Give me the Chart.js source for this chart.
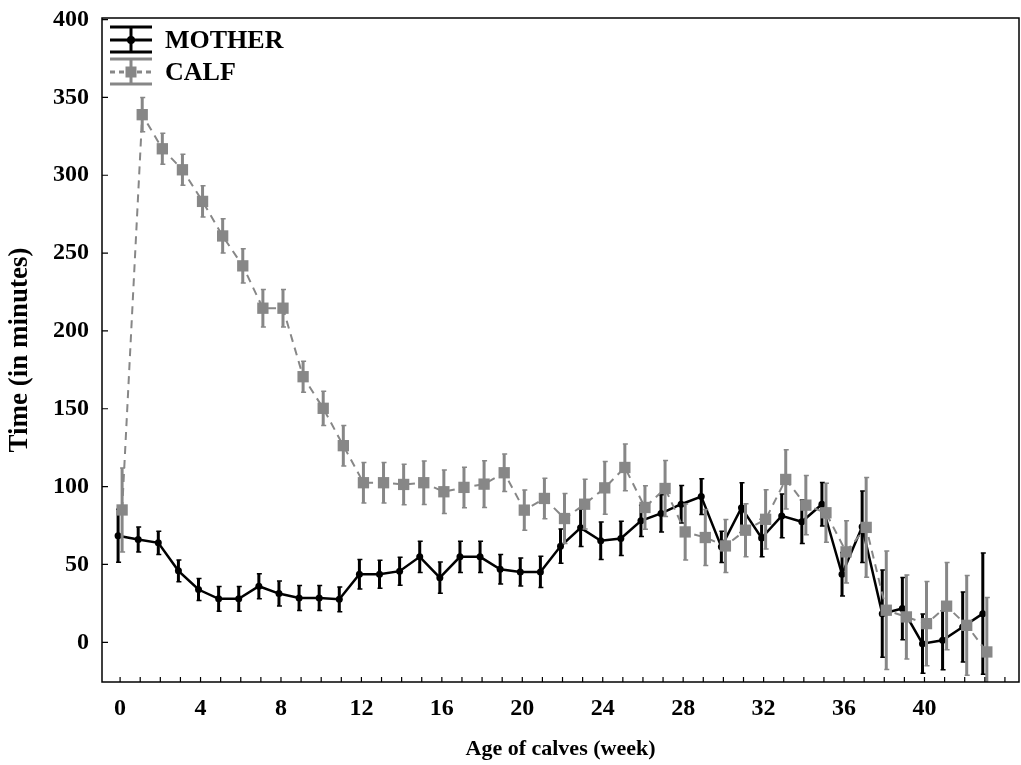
<!DOCTYPE html>
<html>
<head>
<meta charset="utf-8">
<script src="https://cdn.jsdelivr.net/npm/chart.js@4/dist/chart.umd.min.js"></script>
<style>
  html, body { margin: 0; padding: 0; background: #fff; }
  #wrap { width: 1021px; height: 765px; }
</style>
</head>
<body>
<div id="wrap"><canvas id="chart" width="1021" height="765"></canvas></div>
<script>
const weeks = [0, 1, 2, 3, 4, 5, 6, 7, 8, 9, 10, 11, 12, 13, 14, 15, 16, 17, 18, 19, 20, 21,
  22, 23, 24, 25, 26, 27, 28, 29, 30, 31, 32, 33, 34, 35, 36, 37, 38, 39, 40, 41, 42, 43];

const motherMean = [68.4, 66, 63.9, 45.9, 33.9, 27.9, 27.9, 36, 31.3, 28.5, 28.5, 27.6, 43.7, 43.7,
  45.7, 54.9, 41.5, 54.9, 54.9, 46.9, 45.2, 45.2, 61.7, 73.5, 65.2, 66.7, 78, 82.8, 88.7, 93.6,
  61.3, 86.5, 67, 81.2, 77.4, 88.7, 43.7, 74.2, 18.4, 21.7, -0.9, 1.3, 9.8, 18.4];
const motherErr = [17, 8, 7.5, 7, 7, 8, 8, 8, 8, 8, 8, 8, 9.5, 9, 9, 10, 10, 10, 10, 9.5, 9, 10,
  11, 12, 12, 11, 10, 12, 12, 11.5, 10, 16, 12, 14, 14, 14, 14, 23, 28, 20, 19, 19, 22.5, 39];

const calfMean = [85, 338.9, 317, 303.5, 283.2, 261, 241.8, 214.6, 214.6, 170.6, 150.3, 126.3,
  102.5, 102.5, 101.4, 102.5, 96.7, 99.5, 101.6, 108.9, 84.9, 92.4, 79.5, 88.7, 99.2, 112.3,
  86.6, 98.8, 70.9, 67.3, 61.9, 72, 79, 104.6, 88.1, 83.2, 58.1, 73.8, 20.6, 16.3, 12, 23.2,
  10.9, -6.2];
const calfErr = [27, 11, 10, 10, 10, 11, 11, 12, 12, 10, 11, 13, 13, 13, 13, 14, 14, 13, 15, 12,
  13, 13, 16, 16, 17, 15, 14, 18, 18, 18, 17, 17, 19, 19, 19, 19, 20, 32, 38, 27, 27, 28, 32, 35];

const yTickValues = [0, 50, 100, 150, 200, 250, 300, 350, 400];
const seriesNames = ['MOTHER', 'CALF'];
const xTitle = 'Age of calves (week)';
const yTitle = 'Time (in minutes)';

const GREY = '#878787';
const SERIF = '"Liberation Serif", "Times New Roman", serif';
const DODGE = 0.1; // mother and calf are nudged apart a little, as in the figure

function points(means, shift) {
  return weeks.map((w, i) => ({ x: w + shift, y: means[i] }));
}

// vertical error bars, drawn just under each dataset's own line and markers
const errorBars = {
  id: 'errorBars',
  beforeDatasetDraw(chart, args) {
    const ds = chart.data.datasets[args.index];
    if (!ds.errors) return;
    const { ctx, chartArea } = chart;
    const xs = chart.scales.x, ys = chart.scales.y;
    ctx.save();
    ctx.beginPath();
    ctx.rect(chartArea.left, chartArea.top, chartArea.right - chartArea.left, chartArea.bottom - chartArea.top);
    ctx.clip();
    ctx.strokeStyle = ds.borderColor;
    ds.data.forEach((p, i) => {
      const x = xs.getPixelForValue(p.x);
      const top = ys.getPixelForValue(p.y + ds.errors[i]);
      const bot = ys.getPixelForValue(p.y - ds.errors[i]);
      ctx.lineWidth = 3;
      ctx.beginPath();
      ctx.moveTo(x, top);
      ctx.lineTo(x, bot);
      ctx.stroke();
      ctx.lineWidth = 1.5;
      ctx.beginPath();
      ctx.moveTo(x - 2, top); ctx.lineTo(x + 3, top);
      ctx.moveTo(x - 2, bot); ctx.lineTo(x + 3, bot);
      ctx.stroke();
    });
    ctx.restore();
  }
};

// frame, inward tick marks and the legend box in the top-left corner
const frame = {
  id: 'frame',
  afterDraw(chart) {
    const { ctx, chartArea: a } = chart;
    ctx.save();
    ctx.strokeStyle = '#000';
    ctx.lineWidth = 1.5;
    ctx.strokeRect(a.left, a.top, a.right - a.left, a.bottom - a.top);

    ctx.lineWidth = 1.2;
    ctx.beginPath();
    chart.scales.x.ticks.forEach(t => {
      const x = chart.scales.x.getPixelForValue(t.value);
      ctx.moveTo(x, a.bottom);
      ctx.lineTo(x, a.bottom - 5);
    });
    chart.scales.y.ticks.forEach(t => {
      const y = chart.scales.y.getPixelForValue(t.value);
      ctx.moveTo(a.left, y);
      ctx.lineTo(a.left + 6, y);
    });
    ctx.stroke();

    // legend
    const items = [
      { label: seriesNames[0], color: '#000', dash: [], cy: a.top + 22, marker: 'dot' },
      { label: seriesNames[1], color: GREY, dash: [5, 4], cy: a.top + 54, marker: 'square' }
    ];
    const x0 = a.left + 8, x1 = a.left + 50, xc = (x0 + x1) / 2;
    items.forEach(it => {
      ctx.strokeStyle = it.color;
      ctx.fillStyle = it.color;
      ctx.lineWidth = 3;
      ctx.setLineDash([]);
      ctx.beginPath();
      ctx.moveTo(x0, it.cy - 13); ctx.lineTo(x1, it.cy - 13);
      ctx.moveTo(x0, it.cy + 12); ctx.lineTo(x1, it.cy + 12);
      ctx.moveTo(xc, it.cy - 13); ctx.lineTo(xc, it.cy + 12);
      ctx.stroke();
      ctx.setLineDash(it.dash);
      ctx.beginPath();
      ctx.moveTo(x0, it.cy); ctx.lineTo(x1, it.cy);
      ctx.stroke();
      ctx.setLineDash([]);
      if (it.marker === 'dot') {
        ctx.beginPath();
        ctx.arc(xc, it.cy, 4, 0, Math.PI * 2);
        ctx.fill();
      } else {
        ctx.fillRect(xc - 5.5, it.cy - 5.5, 11, 11);
      }
      ctx.fillStyle = '#000';
      ctx.font = 'bold 26px ' + SERIF;
      ctx.textBaseline = 'middle';
      ctx.textAlign = 'left';
      ctx.fillText(it.label, x1 + 13, it.cy + 1);
    });
    ctx.restore();
  }
};

new Chart(document.getElementById('chart'), {
  type: 'line',
  data: {
    datasets: [
      {
        label: seriesNames[1],
        data: points(calfMean, DODGE),
        errors: calfErr,
        borderColor: GREY,
        backgroundColor: GREY,
        borderWidth: 2,
        borderDash: [8, 6],
        pointStyle: 'rect',
        pointRadius: 8,
        pointBorderWidth: 0,
        tension: 0,
        order: 0
      },
      {
        label: seriesNames[0],
        data: points(motherMean, -DODGE),
        errors: motherErr,
        borderColor: '#000',
        backgroundColor: '#000',
        borderWidth: 2.5,
        pointStyle: 'circle',
        pointRadius: 3.5,
        pointBorderWidth: 0,
        tension: 0,
        order: 1
      }
    ]
  },
  options: {
    responsive: false,
    animation: false,
    layout: { autoPadding: false, padding: { top: 18, right: 2, left: 0, bottom: 0 } },
    plugins: {
      legend: { display: false },
      tooltip: { enabled: false }
    },
    scales: {
      x: {
        type: 'linear',
        min: -0.9,
        max: 44.7,
        afterFit: s => {
          s.height = 83;
          s.paddingLeft = 0;
          s.paddingRight = 0;
        },
        afterBuildTicks: s => {
          s.ticks = weeks.concat([44]).map(v => ({ value: v }));
        },
        grid: { display: false },
        border: { display: false },
        ticks: {
          autoSkip: false,
          maxRotation: 0,
          padding: 4,
          color: '#000',
          font: { family: SERIF, size: 24, weight: 'bold' },
          callback: v => (v % 4 === 0 && v <= 40 ? String(v) : '')
        },
        title: {
          display: true,
          text: xTitle,
          color: '#000',
          font: { family: SERIF, size: 22, weight: 'bold' },
          padding: { top: 0, bottom: 2 }
        }
      },
      y: {
        min: -25.5,
        max: 401,
        afterFit: s => {
          s.width = 102;
          s.paddingTop = 0;
          s.paddingBottom = 0;
        },
        afterBuildTicks: s => {
          s.ticks = yTickValues.map(v => ({ value: v }));
        },
        grid: { display: false },
        border: { display: false },
        ticks: {
          padding: 5,
          color: '#000',
          font: { family: SERIF, size: 24, weight: 'bold' }
        },
        title: {
          display: true,
          text: yTitle,
          color: '#000',
          font: { family: SERIF, size: 27, weight: 'bold' },
          padding: { top: 4, bottom: 0 }
        }
      }
    }
  },
  plugins: [errorBars, frame]
});
</script>
</body>
</html>
